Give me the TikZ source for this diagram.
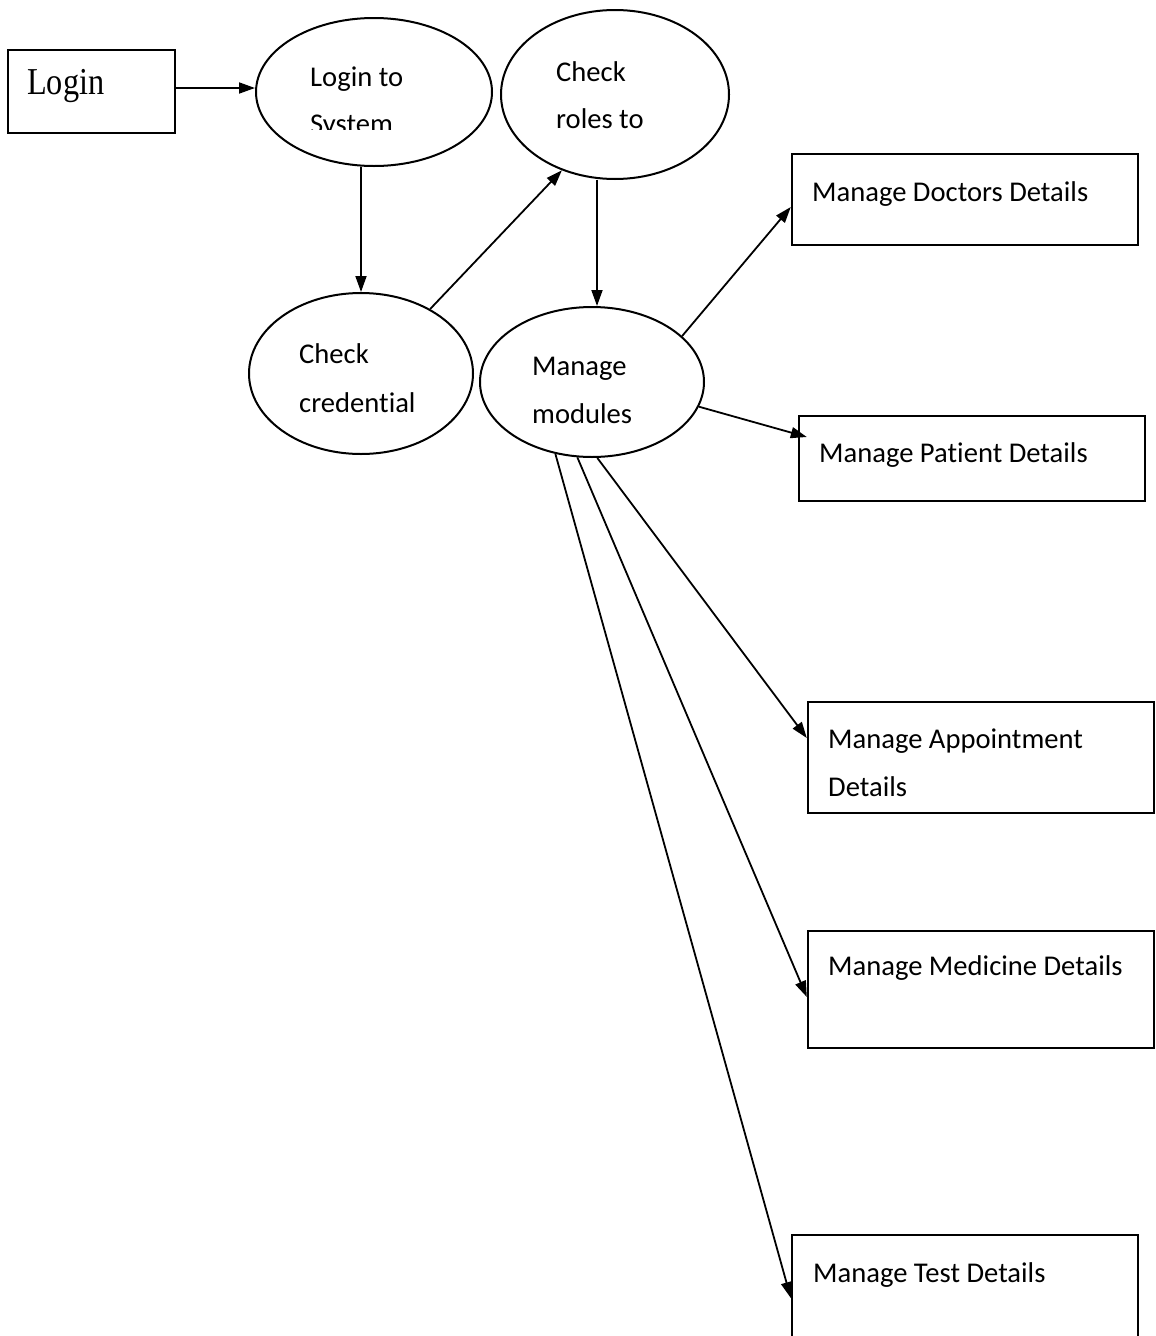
\documentclass[tikz,border=0pt]{standalone}
\usepackage{fontspec}
\setmainfont{Carlito}[Ligatures=NoCommon]
\newfontfamily\timesf{Liberation Serif}
\usetikzlibrary{shapes.geometric,arrows.meta}
\tikzset{
  bubble/.style={ellipse, draw, line width=2pt, inner sep=0pt},
  box/.style={rectangle, draw, line width=2.4pt, inner sep=0pt, minimum width=346pt},
  txt/.style={inner sep=0pt, anchor=base west, font=\fontsize{28.6}{34}\selectfont},
  arr/.style={line width=1.8pt, -{Triangle[length=16pt,width=11pt]}}
}
\begin{document}
\begin{tikzpicture}[x=1pt,y=-1pt]
\clip (0,0) rectangle (1156,1336);
\fill[white] (0,0) rectangle (1156,1336);
% boxes
\node[box, minimum width=167pt, minimum height=83pt] (login) at (91.5,91.5) {};
\node[inner sep=0pt, anchor=base west] (logintxt) at (27,94) {\scalebox{0.85}[1]{\timesf\fontsize{38}{40}\selectfont Login}};
\node[box, minimum height=91pt] (doc) at (965,199.5) {};
\node[box, minimum height=85pt] (pat) at (972,458.5) {};
\node[box, minimum height=111pt] (app) at (981,757.5) {};
\node[box, minimum height=117pt] (med) at (981,989.5) {};
\node[box, minimum height=110pt] (test) at (965,1290) {};
% ellipses
\node[bubble, minimum width=236pt, minimum height=148pt] (e1) at (374,92) {};
\node[bubble, minimum width=228pt, minimum height=169pt] (e2) at (615,94.5) {};
\node[bubble, minimum width=224pt, minimum height=161pt] (e3) at (361,373.5) {};
\node[bubble, minimum width=224pt, minimum height=150pt] (e4) at (592,382) {};
% ellipse texts
\node[txt] (t1a) at (310,86) {Login to};
\begin{scope}
\clip (250,0) rectangle (500,129);
\node[txt] (t1b) at (310,133) {System};
\end{scope}
\node[txt] (t2a) at (556,81) {Check};
\node[txt] (t2b) at (556,128) {roles to};
\node[txt] (t3a) at (299,363) {Check};
\node[txt] (t3b) at (299,412) {credential};
\node[txt] (t4a) at (532,375) {Manage};
\node[txt] (t4b) at (532,423) {modules};
% box texts
\node[txt] (tdoc) at (812,201) {Manage Doctors Details};
\node[txt] (tpat) at (819,462) {Manage Patient Details};
\node[txt] (tapp1) at (828,748) {Manage Appointment};
\node[txt] (tapp2) at (828,796) {Details};
\node[txt] (tmed) at (828,975) {Manage Medicine Details};
\node[txt] (ttest) at (813,1282) {Manage Test Details};
% connectors
\draw[arr] ([yshift=3.5pt]login.east) -- ([yshift=3.5pt]login.east -| e1.west);
\draw[arr] (e1.south -| e3.north) -- (e3.north);
\draw[arr] (e3.43.5) -- (e2.235.4);
\draw[arr] ([xshift=5pt]e2.south -| e4.north) -- ([xshift=5pt]e4.north);
\draw[arr] (e4.27.8) -- ([yshift=-7.5pt]doc.west);
\draw[arr] (e4.-13.2) -- ([xshift=9pt,yshift=21.5pt]pat.west);
\draw[arr] (e4.274.6) -- ([yshift=19.5pt]app.west);
\draw[arr] (e4.259.3) -- ([yshift=-7.5pt]med.west);
\draw[arr] (e4.243.1) -- ([yshift=-8pt]test.west);
\end{tikzpicture}
\end{document}
